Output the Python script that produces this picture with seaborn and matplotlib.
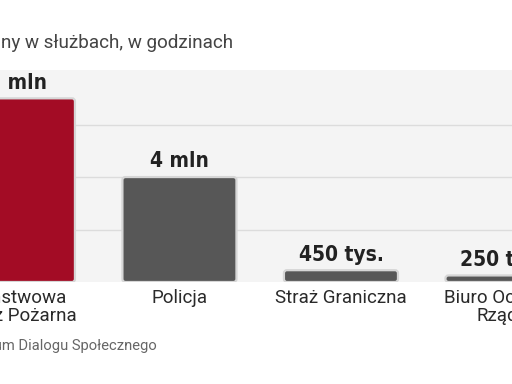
import matplotlib
matplotlib.use("Agg")
import matplotlib.pyplot as plt
from matplotlib.patches import FancyBboxPatch
import seaborn as sns
import pandas as pd

categories = ["Państwowa\nStraż Pożarna", "Policja", "Straż Graniczna", "Biuro Ochrony\nRządu"]
values_mln = [7.0, 4.0, 0.45, 0.25]
value_labels = ["7 mln", "4 mln", "450 tys.", "250 tys."]
bar_colors = ["#a30c25", "#575757", "#575757", "#575757"]
grid_ticks = [2, 4, 6]
title = "Nadgodziny w służbach, w godzinach"
source = "Źródło: Forum Dialogu Społecznego"

sns.set_theme(style="white")
plt.rcParams['font.family'] = ['Roboto', 'DejaVu Sans']

W, H = 512, 384
fig = plt.figure(figsize=(W / 100, H / 100), dpi=100, facecolor="white")
ax = fig.add_axes([0, 1 - 282 / H, 1, (282 - 70) / H])
ax.set_facecolor("#f4f4f4")

df = pd.DataFrame({"cat": categories, "val": values_mln})
sns.barplot(data=df, x="cat", y="val", hue="cat", palette=bar_colors, legend=False,
            width=0.706, ax=ax, zorder=3, saturation=1)

xlim = (-0.111, 3.059)
ylim = (0, 8.08)
ax.set_xlim(*xlim)
ax.set_ylim(*ylim)

px_x = W / (xlim[1] - xlim[0])
px_y = (282 - 70) / (ylim[1] - ylim[0])
r_px = 3.0
for p in list(ax.patches):
    x, y = p.get_x(), p.get_y()
    w, h = p.get_width(), p.get_height()
    fc = p.get_facecolor()
    p.set_visible(False)
    fb = FancyBboxPatch((x, y), w, h,
                        boxstyle=f"round,pad=0,rounding_size={r_px / px_x}",
                        mutation_aspect=px_x / px_y,
                        facecolor=fc, edgecolor="#d6d6d6", linewidth=1.6, zorder=3)
    ax.add_patch(fb)

for i, (v, lab) in enumerate(zip(values_mln, value_labels)):
    ax.annotate(lab, (i, v), xytext=(0, 4), textcoords="offset points",
                ha="center", va="bottom", fontsize=15, fontweight="bold",
                fontstretch="condensed", family="DejaVu Sans",
                color="#222222", zorder=4)

ax.set_yticks(grid_ticks)
ax.yaxis.grid(True, color="#dcdcdc", linewidth=1)
ax.set_axisbelow(True)
ax.set_yticklabels([])
ax.set_xlabel("")
ax.set_ylabel("")
ax.tick_params(axis="both", length=0)
ax.tick_params(axis="x", pad=5, labelsize=13.5, labelcolor="#2a2a2a")
for t in ax.get_xticklabels():
    t.set_linespacing(1.0)
for s in ax.spines.values():
    s.set_visible(False)

fig.text(233 / W, 1 - 43 / H, title, ha="right", va="center", fontsize=13.6, color="#444444")
fig.text(157 / W, 1 - 345 / H, source, ha="right", va="center", fontsize=10.6, color="#666666")

fig.savefig("out.png", dpi=100, facecolor="white")
